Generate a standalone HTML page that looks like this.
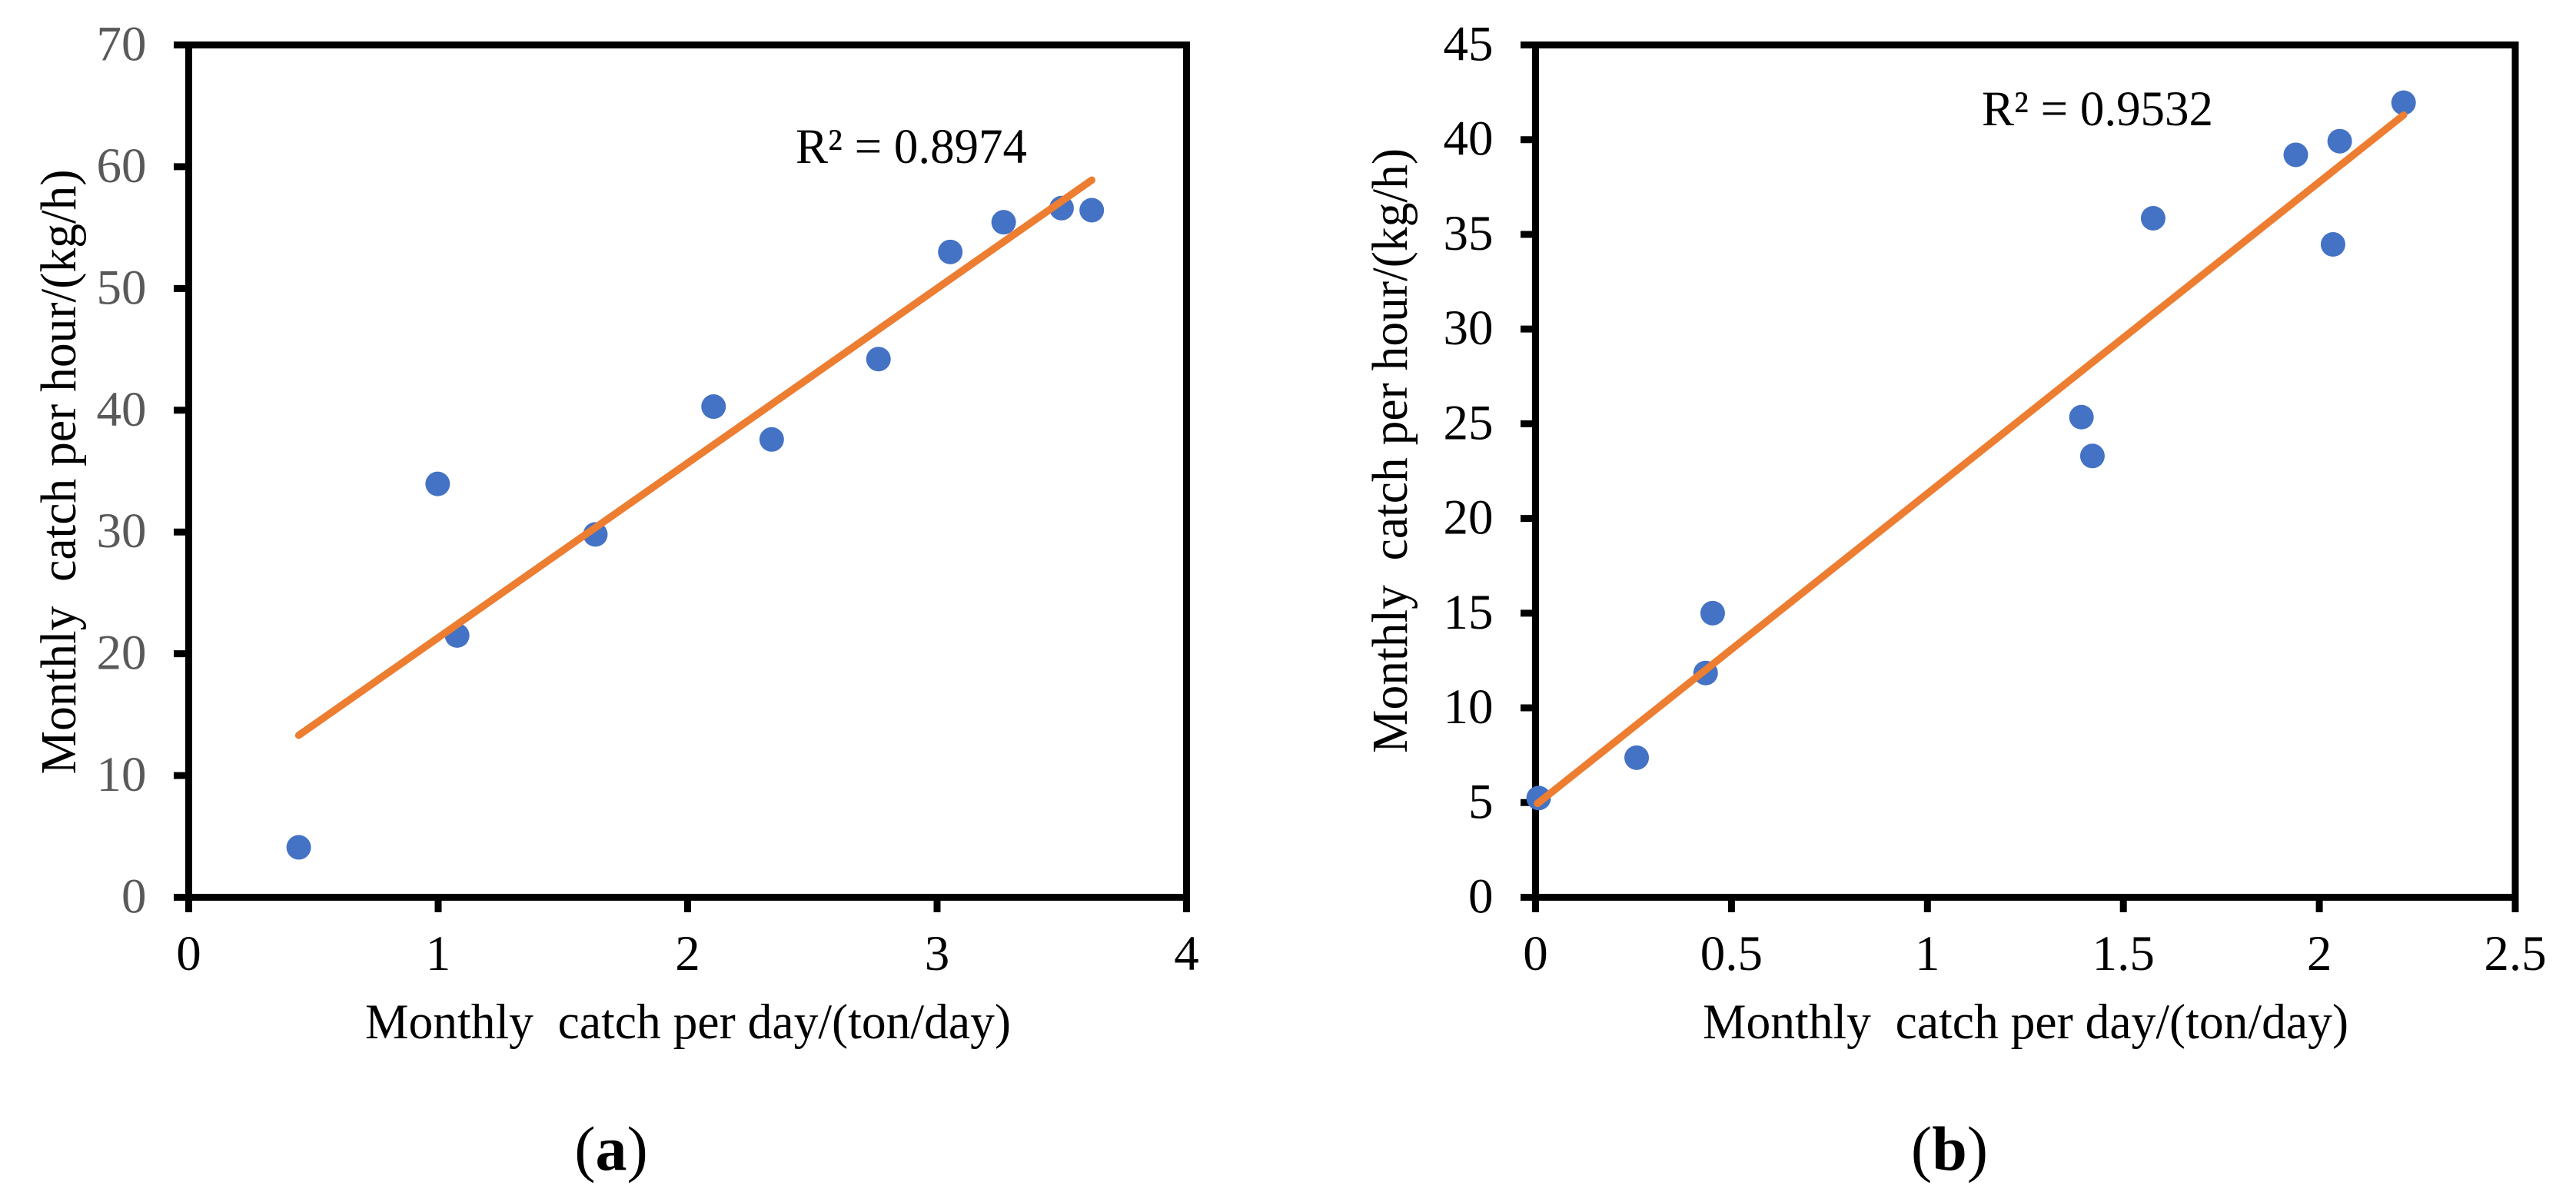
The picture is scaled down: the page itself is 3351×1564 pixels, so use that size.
<!DOCTYPE html>
<html>
<head>
<meta charset="utf-8">
<title>Monthly catch scatter charts</title>
<style>
html,body{margin:0;padding:0;background:#fff;}
svg{display:block;}
text{font-family:"Liberation Serif",serif;white-space:pre;}
</style>
</head>
<body>
<svg id="figure" xmlns="http://www.w3.org/2000/svg" width="3351" height="1564" viewBox="0 0 3351 1564" xml:space="preserve">
<rect x="0" y="0" width="3351" height="1564" fill="#ffffff"/>
<g id="panel-a">
<text x="1035" y="212" font-size="65" textLength="301" lengthAdjust="spacingAndGlyphs" fill="#000">R² = 0.8974</text>
<text x="475" y="1351" font-size="65" textLength="840" lengthAdjust="spacingAndGlyphs" fill="#000">Monthly  catch per day/(ton/day)</text>
<text transform="translate(98,1007.5) rotate(-90)" x="0" y="0" font-size="66" textLength="787" lengthAdjust="spacingAndGlyphs" fill="#000">Monthly  catch per hour/(kg/h)</text>
<text x="795" y="1522" font-size="82" text-anchor="middle" fill="#000">(<tspan font-weight="bold">a</tspan>)</text>
</g>
<g id="panel-b">
<text x="2578" y="163" font-size="65" textLength="301" lengthAdjust="spacingAndGlyphs" fill="#000">R² = 0.9532</text>
<text x="2215" y="1351" font-size="65" textLength="840" lengthAdjust="spacingAndGlyphs" fill="#000">Monthly  catch per day/(ton/day)</text>
<text transform="translate(1830,980) rotate(-90)" x="0" y="0" font-size="66" textLength="787" lengthAdjust="spacingAndGlyphs" fill="#000">Monthly  catch per hour/(kg/h)</text>
<text x="2536" y="1522" font-size="82" text-anchor="middle" fill="#000">(<tspan font-weight="bold">b</tspan>)</text>
</g>
</svg>
<script>
// Panel (a) data
const aXTicks = [0, 1, 2, 3, 4];
const aYTicks = [0, 10, 20, 30, 40, 50, 60, 70];
const aCatchPerDay = [0.441, 0.998, 1.076, 1.63, 2.104, 2.337, 2.765, 3.053, 3.267, 3.499, 3.62];
const aCatchPerHour = [4.1, 33.95, 21.5, 29.8, 40.3, 37.6, 44.2, 53, 55.44, 56.6, 56.43];
const aTrendX = [0.441, 3.62];
const aTrendY = [13.3, 58.9];

// Panel (b) data
const bXTicks = [0, 0.5, 1, 1.5, 2, 2.5];
const bYTicks = [0, 5, 10, 15, 20, 25, 30, 35, 40, 45];
const bCatchPerDay = [0.008, 0.258, 0.434, 0.452, 1.393, 1.421, 1.576, 1.94, 2.035, 2.052, 2.215];
const bCatchPerHour = [5.24, 7.37, 11.84, 15.0, 25.35, 23.3, 35.85, 39.2, 34.47, 39.92, 41.95];
const bTrendX = [0.005, 2.215];
const bTrendY = [4.95, 41.3];

const NS = 'http://www.w3.org/2000/svg';

function make(tag, attrs, parent) {
  const el = document.createElementNS(NS, tag);
  for (const k in attrs) el.setAttribute(k, attrs[k]);
  parent.appendChild(el);
  return el;
}

function drawPanel(opt) {
  const root = document.getElementById(opt.id);
  const sx = v => opt.left + (v - opt.xTicks[0]) / (opt.xTicks[opt.xTicks.length - 1] - opt.xTicks[0]) * (opt.right - opt.left);
  const sy = v => opt.bottom - (v - opt.yTicks[0]) / (opt.yTicks[opt.yTicks.length - 1] - opt.yTicks[0]) * (opt.bottom - opt.top);

  // plot frame
  const frame = make('rect', {x: opt.left, y: opt.top, width: opt.right - opt.left, height: opt.bottom - opt.top, fill: 'none', stroke: '#000', 'stroke-width': 9}, root);
  
  

  // y ticks + labels
  opt.yTicks.forEach(t => {
    const tick = make('line', {x1: opt.left - 19.5, x2: opt.left, y1: sy(t), y2: sy(t), stroke: '#000', 'stroke-width': 9}, root);
    
    
    const label = make('text', {x: opt.yLabelX, y: sy(t) + 20, 'font-size': 65, 'text-anchor': 'end', fill: opt.yColor}, root);
    
    
    label.textContent = String(t);
  });

  // x ticks + labels
  opt.xTicks.forEach(t => {
    const tick = make('line', {x1: sx(t), x2: sx(t), y1: opt.bottom, y2: opt.bottom + 19.5, stroke: '#000', 'stroke-width': 9}, root);
    
    
    const label = make('text', {x: sx(t), y: 1262, 'font-size': 65, 'text-anchor': 'middle', fill: '#000'}, root);
    
    
    label.textContent = String(t);
  });

  // points
  opt.xs.forEach((x, i) => {
    const pt = make('circle', {cx: sx(x), cy: sy(opt.ys[i]), r: 16, fill: '#4472C4'}, root);
    
    
  });

  // trendline
  const line = make('line', {x1: sx(opt.trendX[0]), y1: sy(opt.trendY[0]), x2: sx(opt.trendX[1]), y2: sy(opt.trendY[1]), stroke: '#ED7D31', 'stroke-width': 9.5, 'stroke-linecap': 'round'}, root);
  
  
}

drawPanel({id: 'panel-a', left: 245.5, right: 1543.5, top: 58.5, bottom: 1167.5, yLabelX: 190.5, yColor: '#595959',
  xTicks: aXTicks, yTicks: aYTicks, xs: aCatchPerDay, ys: aCatchPerHour, trendX: aTrendX, trendY: aTrendY});
drawPanel({id: 'panel-b', left: 1997.5, right: 3272, top: 58.5, bottom: 1167.5, yLabelX: 1942.5, yColor: '#000000',
  xTicks: bXTicks, yTicks: bYTicks, xs: bCatchPerDay, ys: bCatchPerHour, trendX: bTrendX, trendY: bTrendY});
</script>
</body>
</html>
